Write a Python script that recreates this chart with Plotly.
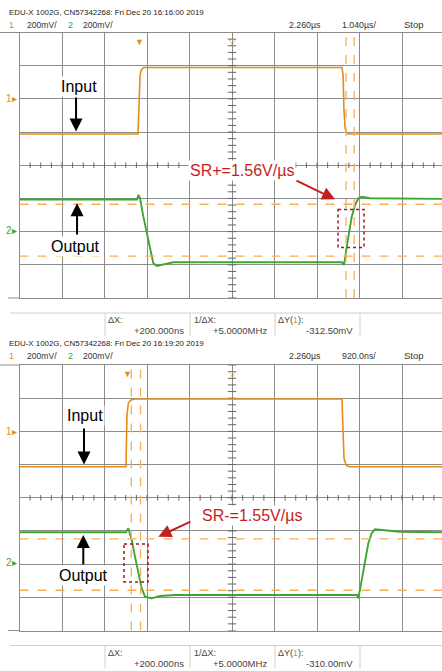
import numpy as np
import plotly.graph_objects as go

W, H = 442, 671

# ---------------- data (read from the two captures) ----------------
# Upper capture: SR+ measurement, 1.040 us/div, delay 2.260 us, 200 mV/div
up_tdiv, up_delay = 1.040, 2.260
t_ch1_up = [-2.94, -0.04, -0.02, 0.01, 0.04, 0.10, 4.95, 4.98, 5.00, 5.03, 5.06, 5.10, 7.46]
v_ch1_up = [0.188, 0.188, 0.33, 0.54, 0.575, 0.589, 0.589, 0.54, 0.33, 0.22, 0.20, 0.188, 0.188]
t_ch2_up = [-2.94, -0.064, -0.032, 0.010, 0.091, 0.174, 0.254, 0.335, 0.418, 0.580, 0.825,
            4.953, 5.002, 5.068, 5.190, 5.271, 5.352, 5.435, 5.638, 7.46]
v_ch2_up = [-0.206, -0.206, -0.179, -0.199, -0.310, -0.410, -0.511, -0.591, -0.607, -0.597, -0.585,
            -0.585, -0.601, -0.491, -0.310, -0.240, -0.199, -0.190, -0.199, -0.203]
cur_x_up = [5.05, 5.25]
cur_y_up = [-0.235, -0.5475]
box_t_up = [4.855, 5.491]
box_v_up = [-0.267, -0.496]

# Lower capture: SR- measurement, 920.0 ns/div, delay 2.260 us, 200 mV/div
lo_tdiv, lo_delay = 0.920, 2.260
t_ch1_lo = [-2.34, -0.035, -0.024, -0.013, 0.016, 0.074, 0.160, 4.641, 4.663, 4.684, 4.728, 4.793, 6.86]
v_ch1_lo = [0.187, 0.187, 0.348, 0.499, 0.571, 0.589, 0.595, 0.595, 0.408, 0.239, 0.197, 0.187, 0.187]
t_ch2_lo = [-2.34, -0.035, 0.015, 0.089, 0.160, 0.232, 0.305, 0.377, 0.522, 0.701, 1.026,
            4.966, 4.994, 5.068, 5.139, 5.211, 5.284, 5.356, 5.501, 5.897, 6.86]
v_ch2_lo = [-0.208, -0.208, -0.184, -0.255, -0.355, -0.455, -0.546, -0.596, -0.606, -0.592, -0.586,
            -0.586, -0.606, -0.496, -0.375, -0.274, -0.214, -0.190, -0.194, -0.205, -0.208]
cur_x_lo = [0.08, 0.28]
cur_y_lo = [-0.2475, -0.5575]
box_t_lo = [-0.078, 0.442]
box_v_lo = [-0.279, -0.508]

vdiv = 0.2  # 200 mV/div, 8 divisions

headers = ["EDU-X 1002G, CN57342268: Fri Dec 20 16:16:00 2019",
           "EDU-X 1002G, CN57342268: Fri Dec 20 16:19:20 2019"]
timebase_labels = ["1.040µs/", "920.0ns/"]
delay_label = "2.260µs"
dx_labels = ["+200.000ns", "+200.000ns"]
inv_dx_labels = ["+5.0000MHz", "+5.0000MHz"]
dy_labels = ["-312.50mV", "-310.00mV"]
sr_labels = ["SR+=1.56V/µs", "SR-=1.55V/µs"]

# ---------------- styling ----------------
ORANGE = "#E38D1C"
GREEN = "#3DA632"
CURSOR = "#F7AE55"
RED = "#C41E1E"
BOXRED = "#A01818"
GRID = "#8c8c8c"
FONT = "Liberation Sans, Arial, sans-serif"
FONT_MAIN = "Liberation Sans, Arial, sans-serif"


def px(x):
    return x / W


def py(y):
    return 1 - y / H


left_px = 19.5
panels = [
    dict(top=32.5, bottom=298.0, tdiv=up_tdiv, delay=up_delay, xa="x", ya="y", xn="xaxis", yn="yaxis",
         t1=t_ch1_up, v1=v_ch1_up, t2=t_ch2_up, v2=v_ch2_up, cx=cur_x_up, cy=cur_y_up,
         bt=box_t_up, bv=box_v_up, off=0.0),
    dict(top=365.0, bottom=630.5, tdiv=lo_tdiv, delay=lo_delay, xa="x2", ya="y2", xn="xaxis2", yn="yaxis2",
         t1=t_ch1_lo, v1=v_ch1_lo, t2=t_ch2_lo, v2=v_ch2_lo, cx=cur_x_lo, cy=cur_y_lo,
         bt=box_t_lo, bv=box_v_lo, off=332.5),
]

fig = go.Figure()
layout = dict(width=W, height=H, margin=dict(l=0, r=0, t=0, b=0),
              paper_bgcolor="white", plot_bgcolor="white", showlegend=False)
shapes = []
annotations = []

for i, p in enumerate(panels):
    pxdiv = 42.5
    t_left = p["delay"] - 5 * p["tdiv"]
    t_right = t_left + (W - left_px) / pxdiv * p["tdiv"]
    layout[p["xn"]] = dict(domain=[px(left_px), 1], range=[t_left, t_right], anchor=p["ya"],
                           tick0=p["delay"], dtick=p["tdiv"], showgrid=True, gridcolor=GRID,
                           gridwidth=1, showticklabels=False, ticks="", zeroline=False,
                           showline=True, linecolor=GRID, linewidth=1, mirror=True)
    layout[p["yn"]] = dict(domain=[py(p["bottom"]), py(p["top"])], range=[-4 * vdiv, 4 * vdiv],
                           anchor=p["xa"], tick0=0, dtick=vdiv, showgrid=True, gridcolor=GRID,
                           gridwidth=1, showticklabels=False, ticks="", zeroline=False,
                           showline=True, linecolor=GRID, linewidth=1, mirror=True)

    # graticule minor ticks on the centre lines
    hx = p["delay"] + np.arange(-20, 21) * p["tdiv"] / 4
    fig.add_trace(go.Scatter(x=hx, y=np.zeros_like(hx), mode="markers", xaxis=p["xa"], yaxis=p["ya"],
                             marker=dict(symbol="line-ns", size=4, line=dict(color="#666", width=1)),
                             hoverinfo="skip"))
    vy = np.arange(-20, 21) * vdiv / 5
    fig.add_trace(go.Scatter(x=np.full_like(vy, p["delay"]), y=vy, mode="markers", xaxis=p["xa"],
                             yaxis=p["ya"],
                             marker=dict(symbol="line-ew", size=6, line=dict(color="#666", width=1)),
                             hoverinfo="skip"))

    # cursors
    for cx in p["cx"]:
        shapes.append(dict(type="line", xref=p["xa"], yref=p["ya"] + " domain", x0=cx, x1=cx, y0=0, y1=1,
                           line=dict(color=CURSOR, width=1.3, dash="dash")))
    for cy in p["cy"]:
        shapes.append(dict(type="line", xref=p["xa"] + " domain", yref=p["ya"], x0=0, x1=1, y0=cy, y1=cy,
                           line=dict(color=CURSOR, width=1.3, dash="dash")))

    # traces
    fig.add_trace(go.Scatter(x=p["t1"], y=p["v1"], mode="lines", xaxis=p["xa"], yaxis=p["ya"],
                             line=dict(color=ORANGE, width=1.6), hoverinfo="skip"))
    fig.add_trace(go.Scatter(x=p["t2"], y=p["v2"], mode="lines", xaxis=p["xa"], yaxis=p["ya"],
                             line=dict(color=GREEN, width=1.9), hoverinfo="skip"))

    # red measurement box
    shapes.append(dict(type="rect", xref=p["xa"], yref=p["ya"], x0=p["bt"][0], x1=p["bt"][1],
                       y0=p["bv"][0], y1=p["bv"][1], line=dict(color=BOXRED, width=1.5, dash="dot")))

    off = p["off"]
    # border extensions
    shapes.append(dict(type="line", xref="paper", yref="paper", x0=0, x1=px(left_px),
                       y0=py(p["top"]), y1=py(p["top"]), line=dict(color=GRID, width=1)))
    shapes.append(dict(type="line", xref="paper", yref="paper", x0=px(8), x1=px(left_px),
                       y0=py(p["bottom"]), y1=py(p["bottom"]), line=dict(color=GRID, width=1)))
    # info bar
    shapes.append(dict(type="line", xref="paper", yref="paper", x0=px(10), x1=1,
                       y0=py(313 + off), y1=py(313 + off), line=dict(color="#cfcfcf", width=1)))
    for sx in [105, 190, 275, 360]:
        shapes.append(dict(type="line", xref="paper", yref="paper", x0=px(sx), x1=px(sx),
                           y0=py(313 + off), y1=py(336 + off), line=dict(color="#cfcfcf", width=1)))

    def txt(x, y, s, color="#333", size=10.5, xanchor="left", family=FONT):
        annotations.append(dict(x=px(x), y=py(y), xref="paper", yref="paper", text=s, showarrow=False,
                                xanchor=xanchor, yanchor="middle",
                                font=dict(family=family, size=size, color=color)))

    hoff = 0 if i == 0 else 331
    txt(7, 12.5 + hoff, headers[i], "#222", 7.9)
    txt(7, 24.5 + hoff, "1", ORANGE, 9)
    txt(25, 24.5 + hoff, "200mV/", "#333", 8.6)
    txt(66, 24.5 + hoff, "2", GREEN, 9)
    txt(81, 24.5 + hoff, "200mV/", "#333", 8.6)
    txt(287, 24.5 + hoff, delay_label, "#333", 8.8)
    txt(340, 24.5 + hoff, timebase_labels[i], "#333", 8.8)
    txt(402, 24.5 + hoff, "Stop", "#333", 9.5)

    txt(106, 320 + off, "ΔX:", "#444", 9)
    txt(186, 330.5 + off, dx_labels[i], "#444", 9.5, "right")
    txt(192, 320 + off, "1/ΔX:", "#444", 9)
    txt(269, 330.5 + off, inv_dx_labels[i], "#444", 9.5, "right")
    txt(276, 320 + off, f"ΔY(<span style='color:{ORANGE}'>1</span>):", "#444", 9)
    txt(355, 330.5 + off, dy_labels[i], "#444", 9.5, "right")

    # channel ground markers
    txt(4, 99 + off, "1▸", ORANGE, 10)
    txt(4, 230 + off, "2▸", GREEN, 10)

    # trigger markers
    annotations.append(dict(x=0, y=1, xref=p["xa"], yref=p["ya"] + " domain", text="▼", showarrow=False,
                            yanchor="top", font=dict(size=9, color=ORANGE)))
    annotations.append(dict(x=p["delay"], y=1, xref=p["xa"], yref=p["ya"] + " domain", text="▽",
                            showarrow=False, yanchor="top", font=dict(size=9, color=ORANGE)))

# text labels and arrows (data coords)
lab = [
    ("", "Input", -1.495, 0.472),
    ("", "Output", -1.569, -0.487),
    ("2", "Input", -0.933, 0.4986),
    ("2", "Output", -0.955, -0.4715),
]
for suf, s, x, y in lab:
    annotations.append(dict(x=x, y=y, xref="x" + suf, yref="y" + suf, text=s, showarrow=False,
                            xanchor="center", yanchor="middle", bgcolor="white", borderpad=1,
                            font=dict(family=FONT_MAIN, size=16, color="black")))
arrows = [
    ("", -1.556, 0.203, 0, -35.5),
    ("", -1.532, -0.229, 0, 32.7),
    ("2", -0.944, 0.2004, 0, -37.5),
    ("2", -0.959, -0.2245, 0, 31),
]
for suf, x, y, ax, ay in arrows:
    annotations.append(dict(x=x, y=y, xref="x" + suf, yref="y" + suf, text="", showarrow=True,
                            ax=ax, ay=ay, arrowhead=2, arrowsize=1.3, arrowwidth=2, arrowcolor="black"))

annotations.append(dict(x=2.499, y=-0.0286, xref="x", yref="y", text=sr_labels[0], showarrow=False,
                        bgcolor="white", borderpad=1, font=dict(family=FONT_MAIN, size=16, color=RED)))
annotations.append(dict(x=2.693, y=-0.104, xref="x2", yref="y2", text=sr_labels[1], showarrow=False,
                        bgcolor="white", borderpad=1, font=dict(family=FONT_MAIN, size=16, color=RED)))
annotations.append(dict(x=4.782, y=-0.205, xref="x", yref="y", text="", showarrow=True, ax=-40, ay=-19.3,
                        arrowhead=2, arrowsize=1.3, arrowwidth=2, arrowcolor=RED))
annotations.append(dict(x=0.665, y=-0.2347, xref="x2", yref="y2", text="", showarrow=True, ax=33.7, ay=-15.7,
                        arrowhead=2, arrowsize=1.3, arrowwidth=2, arrowcolor=RED))

layout["shapes"] = shapes
layout["annotations"] = annotations
fig.update_layout(**layout)
fig.write_html("out.html")
